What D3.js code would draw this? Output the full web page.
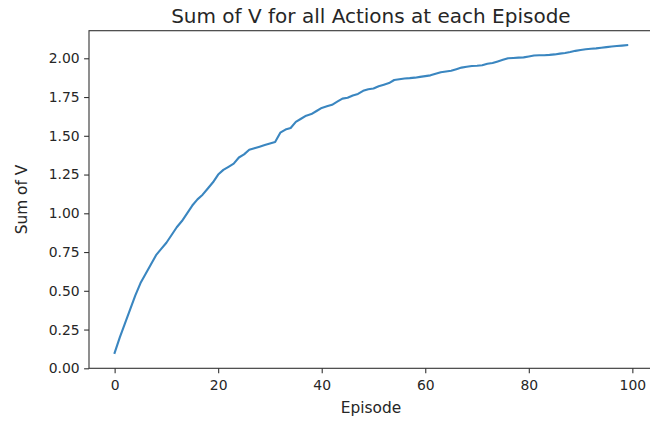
<!DOCTYPE html>
<html><head><meta charset="utf-8">
<script src="https://cdn.jsdelivr.net/npm/d3@7"></script>
<style>
body{margin:0;background:#fff;}
svg{display:block;font-family:"DejaVu Sans",sans-serif;}
</style></head>
<body>
<svg id="c" width="650" height="421"></svg>
<script>
const episodes = d3.range(0, 100);
const sumV = [
0.10,0.20,0.29,0.38,0.47,0.55,0.61,0.67,0.73,0.77,
0.81,0.86,0.91,0.95,1.00,1.05,1.09,1.12,1.16,1.20,
1.25,1.28,1.30,1.32,1.36,1.38,1.41,1.42,1.43,1.44,
1.45,1.46,1.52,1.54,1.55,1.59,1.61,1.63,1.64,1.66,
1.68,1.69,1.70,1.72,1.74,1.745,1.76,1.77,1.79,1.80,
1.805,1.82,1.83,1.84,1.86,1.865,1.87,1.872,1.875,1.88,
1.885,1.89,1.90,1.91,1.915,1.92,1.93,1.94,1.945,1.95,
1.952,1.955,1.965,1.97,1.98,1.99,2.00,2.002,2.004,2.006,
2.012,2.018,2.02,2.02,2.022,2.025,2.03,2.034,2.04,2.048,
2.054,2.058,2.062,2.064,2.068,2.072,2.076,2.079,2.082,2.085];
const xTicks = [0,20,40,60,80,100];
const yTicks = [0,0.25,0.5,0.75,1.0,1.25,1.5,1.75,2.0];
const title = "Sum of V for all Actions at each Episode";
const xLabel = "Episode";
const yLabel = "Sum of V";

const L = 89, R = 652.8, T = 30.7, B = 368.3;
const x = d3.scaleLinear().domain([-4.95, 103.95]).range([L, R]);
const y = d3.scaleLinear().domain([0, 2.178]).range([B, T]);
const svg = d3.select("#c");
const fs = 13.9;
const txt = "#262626";

// line
svg.append("path").datum(episodes.map((e,i)=>[e,sumV[i]]))
  .attr("fill","none").attr("stroke","#3a86c0").attr("stroke-width",2.1)
  .attr("stroke-linejoin","round").attr("stroke-linecap","square")
  .attr("d", d3.line().x(d=>x(d[0])).y(d=>y(d[1])));

// axes
const xa = svg.append("g").attr("transform",`translate(0,${B})`)
  .call(d3.axisBottom(x).tickValues(xTicks).tickSize(4.9).tickPadding(6.5).tickFormat(d3.format("d")));
const ya = svg.append("g").attr("transform",`translate(${L},0)`)
  .call(d3.axisLeft(y).tickValues(yTicks).tickSize(4.9).tickPadding(4.5).tickFormat(d3.format(".2f")));
[xa,ya].forEach(g=>{
  g.select(".domain").remove();
  g.selectAll(".tick line").attr("stroke","#333").attr("stroke-width",1.1);
  g.selectAll(".tick text").attr("fill",txt).style("font-size",fs+"px").style("font-family","DejaVu Sans");
});

// spines
svg.append("rect").attr("x",L).attr("y",T).attr("width",R-L).attr("height",B-T)
  .attr("fill","none").attr("stroke","#333").attr("stroke-width",1.1);

// title and labels
svg.append("text").attr("x",(L+R)/2).attr("y",22.5).attr("text-anchor","middle")
  .attr("fill",txt).style("font-size","20px").text(title);
svg.append("text").attr("x",(L+R)/2).attr("y",413).attr("text-anchor","middle")
  .attr("fill",txt).style("font-size","15.4px").text(xLabel);
svg.append("text").attr("transform",`translate(27,${(T+B)/2}) rotate(-90)`).attr("text-anchor","middle")
  .attr("fill",txt).style("font-size","15.4px").text(yLabel);
</script>
</body></html>
